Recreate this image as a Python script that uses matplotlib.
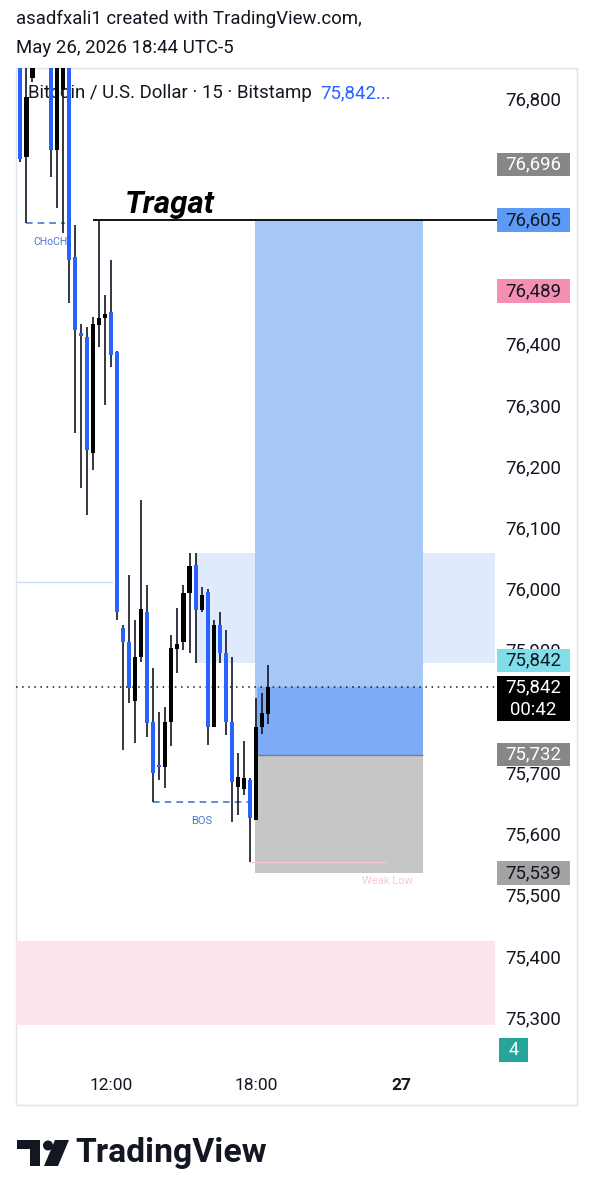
import numpy as np
import matplotlib
matplotlib.use('Agg')
import matplotlib.pyplot as plt
from matplotlib.patches import Rectangle, Polygon, Circle

plt.rcParams['font.family'] = ['Roboto', 'DejaVu Sans']

# 15 min bars, slot 0 = 12:00 (May 26)
slots = list(range(-15, 27))
opens = [76950, 76708, 76837, 76960, 77040, 76940, 76720, 76817, 76900, 76545,
         76420, 76414, 76225, 76434, 76445, 76455, 76390, 75939, 75916, 75820,
         75891, 75965, 75785, 75715, 75712, 75785, 75905, 75916, 75996, 76041,
         75968, 75998, 75777, 75944, 75898, 75785, 75679, 75676, 75691, 75626,
         75777, 75799]
highs = [76990, 76920, 76990, 77080, 77060, 76970, 76900, 76930, 76920, 76597,
         76435, 76430, 76447, 76605, 76483, 76540, 76392, 75944, 76026, 75952,
         76148, 76009, 75874, 75802, 75810, 75927, 75972, 76009, 76061, 76061,
         76006, 76003, 75952, 75965, 75936, 75891, 75735, 75754, 75694, 75825,
         75832, 75879]
lows = [76700, 76600, 76830, 76930, 76900, 76675, 76625, 76584, 76470, 76257,
        76167, 76124, 76197, 76398, 76303, 76365, 75952, 75740, 75816, 75751,
        75884, 75761, 75655, 75691, 75678, 75746, 75866, 75903, 75898, 75881,
        75965, 75748, 75777, 75881, 75764, 75622, 75633, 75666, 75557, 75626,
        75766, 75782]
closes = [76705, 76806, 76960, 77040, 76940, 76720, 76880, 76900, 76540, 76426,
          76416, 76230, 76435, 76445, 76452, 76385, 75965, 75916, 75841, 75891,
          75970, 75784, 75702, 75712, 75785, 75906, 75913, 75996, 76040, 75968,
          75993, 75777, 75944, 75898, 75785, 75687, 75695, 75694, 75628, 75777,
          75800, 75842]

tick_slots = [0, 24, 48]
tick_labels = ['12:00', '18:00', '27']
axis_prices = list(range(75300, 76900, 100))

last_price = 75842
entry, target, stop = 75732, 76605, 75539
fvg_zone = (75881, 76061)
pink_zone = (75291, 75428)
weak_low = 75557
bos_level = 75655
choch_level = 76600
old_line = 76014
alert_prices = [76696, 76489]

W, H = 592, 1200
PX = 1.633  # price per pixel
fig = plt.figure(figsize=(W / 100, H / 100), dpi=100)


def frac(l, t, r, b):
    return [l / W, 1 - b / H, (r - l) / W, (b - t) / H]


bg = fig.add_axes([0, 0, 1, 1])
bg.set_xlim(0, W)
bg.set_ylim(H, 0)
bg.axis('off')

ax = fig.add_axes(frac(16, 68, 497, 1065))
pax = fig.add_axes(frac(497, 68, 576, 1065))
ylim = (75225.3, 76853.4)
xlim = (-15.73, 63.91)
ax.set_ylim(*ylim)
ax.set_xlim(*xlim)
ax.patch.set_visible(False)
for s in ax.spines.values():
    s.set_visible(False)
ax.set_yticks([])
ax.set_xticks(tick_slots, tick_labels)
ax.tick_params(axis='x', length=0, pad=9, labelsize=12.5, labelcolor='#131722')
ax.get_xticklabels()[2].set_fontweight('bold')

pax.set_ylim(*ylim)
pax.set_xlim(497, 576)
pax.axis('off')

# header
bg.text(16, 19, 'asadfxali1 created with TradingView.com,', fontsize=13.4, color='#131722', va='center')
bg.text(16, 48, 'May 26, 2026 18:44 UTC-5', fontsize=13.4, color='#131722', va='center')
bg.add_patch(Rectangle((16, 68), 561, 1037, fill=False, ec='#e0e3eb', lw=1))

ax.text(0.025, 0.975, 'Bitcoin / U.S. Dollar · 15 · Bitstamp', transform=ax.transAxes,
        fontsize=13.4, color='#131722', va='center', zorder=1)
ax.text(0.632, 0.975, '75,842...', transform=ax.transAxes,
        fontsize=13.4, color='#2962ff', va='center', zorder=1)

right = 63.6
# zones
ax.add_patch(Rectangle((xlim[0], pink_zone[0]), right - xlim[0], pink_zone[1] - pink_zone[0],
                       fc='#fce4ec', lw=0, zorder=0.5))
ax.add_patch(Rectangle((13.9, fvg_zone[0]), right - 13.9, fvg_zone[1] - fvg_zone[0],
                       fc='#dfebfc', lw=0, zorder=0.6))
ax.hlines(old_line, xlim[0], 0.3, color='#cfe0f7', lw=1, zorder=0.7)

# long position
x0, x1 = 23.85, 51.66
ax.add_patch(Rectangle((x0, entry), x1 - x0, target - entry, fc='#a6c8f7', lw=0, zorder=2))
ax.add_patch(Rectangle((x0 + 0.4, entry), x1 - x0 - 0.4, last_price - entry, fc='#7eabf6', lw=0, zorder=2.1))
ax.add_patch(Rectangle((x0, stop), x1 - x0, entry - stop, fc='#c6c6c6', lw=0, zorder=2))
ax.hlines(entry, x0, x1, color='#7d7d7d', lw=1, zorder=2.2)

# structure marks
ax.hlines(target, -3, xlim[1], color='#000000', lw=1.3, zorder=2.5)
ax.text(2.3, 76616, 'Tragat', fontsize=22.5, fontweight='bold', fontstyle='italic',
        color='#000000', va='baseline', ha='left', zorder=5)
ax.hlines(choch_level, -14, -7.6, color='#4a78d0', lw=1.2, linestyles=(0, (4, 3)), zorder=2.5)
ax.text(-10.1, 76569, 'CHoCH', fontsize=7.5, color='#4a78d0', ha='center', va='center', zorder=5)
ax.hlines(bos_level, 7, 23, color='#4a78d0', lw=1.2, linestyles=(0, (4, 3)), zorder=2.5)
ax.text(15, 75624, 'BOS', fontsize=8, color='#4a78d0', ha='center', va='center', zorder=5)
ax.hlines(weak_low, 23, 45.7, color='#f4c6d2', lw=0.8, zorder=2.5)
ax.text(41.6, 75526, 'Weak Low', fontsize=8, color='#f8c8d4', ha='left', va='center', zorder=5)
ax.hlines(last_price, xlim[0], xlim[1], color='#131722', lw=1.1, linestyles=(0, (1, 3)), zorder=2.6)

# candles
x = np.array(slots)
o, h, l, c = map(np.array, (opens, highs, lows, closes))
cols = np.where(c >= o, '#000000', '#2962ff')
ax.vlines(x, l, h, color='#131722', lw=1.2, zorder=3)
ax.bar(x, np.maximum(np.abs(c - o), 2.5), bottom=np.minimum(o, c), width=0.68,
       color=cols, lw=0, zorder=4)


def tag(price, text, fc, tc, shift=0, hpx=23.5):
    y = price + shift * PX
    pax.add_patch(Rectangle((497.5, y - hpx / 2 * PX), 72, hpx * PX, fc=fc, lw=0, zorder=3))
    pax.text(533, y, text, fontsize=13.4, color=tc, ha='center', va='center', zorder=4)
    return y


tag_ys = [
    tag(alert_prices[0], f'{alert_prices[0]:,}', '#878787', '#ffffff'),
    tag(target, f'{target:,}', '#5b9bf6', '#131722'),
    tag(alert_prices[1], f'{alert_prices[1]:,}', '#f48fb1', '#131722'),
    tag(last_price, f'{last_price:,}', '#80deea', '#131722', shift=27),
    tag(entry, f'{entry:,}', '#878787', '#ffffff'),
    tag(stop, f'{stop:,}', '#a3a3a3', '#131722'),
]

# live price tag
pax.add_patch(Rectangle((497.5, last_price - 34 * PX), 72, 45 * PX, fc='#000000', lw=0, zorder=3))
pax.text(533, last_price, f'{last_price:,}', fontsize=13.4, color='#ffffff', ha='center', va='center', zorder=4)
pax.text(533, last_price - 23 * PX, '00:42', fontsize=13.4, color='#ffffff', ha='center', va='center', zorder=4)
tag_ys += [last_price, last_price - 23 * PX]

# price scale (labels fully covered by a tag are not drawn)
for p in axis_prices:
    if min(abs(p - t) for t in tag_ys) < 8 * PX:
        continue
    pax.text(533, p, f'{p:,}', fontsize=13.4, color='#131722', ha='center', va='center', zorder=1)

# indicator count badge
y4 = ylim[0] + 15 * PX
pax.add_patch(Rectangle((499, y4 - 12 * PX), 29, 24 * PX, fc='#26a69a', lw=0, zorder=3))
pax.text(513.5, y4, '4', fontsize=13, color='#ffffff', ha='center', va='center', zorder=4)

# footer logo
bg.add_patch(Rectangle((17, 1140), 23, 9, fc='#131722', lw=0))
bg.add_patch(Rectangle((30, 1140), 10, 26, fc='#131722', lw=0))
bg.add_patch(Circle((48, 1145.5), 5, fc='#131722', lw=0))
bg.add_patch(Polygon([(55, 1140), (69, 1140), (58, 1166), (44, 1166)], fc='#131722', lw=0))
bg.text(75, 1153, 'TradingView', fontsize=24.3, fontweight='bold', color='#131722', va='center')

fig.savefig('out.png', dpi=100, facecolor='white')
